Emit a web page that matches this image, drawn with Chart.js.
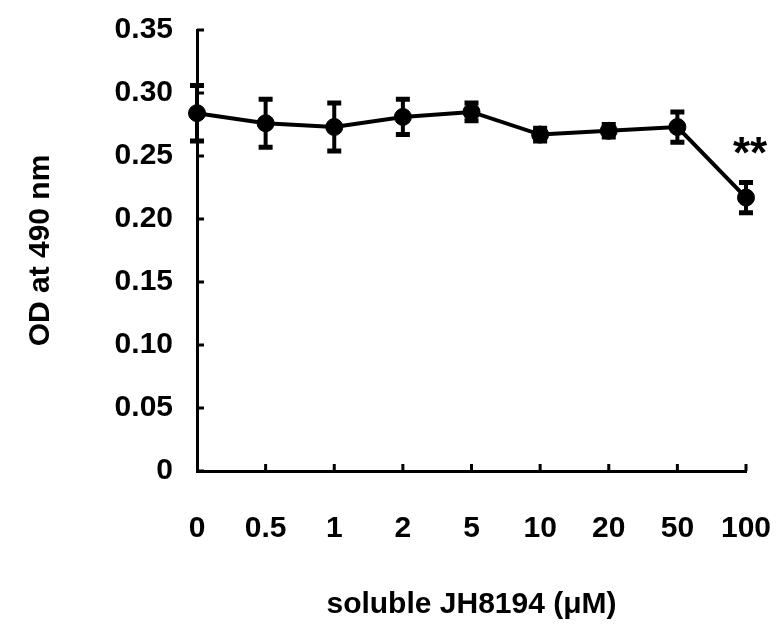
<!DOCTYPE html>
<html>
<head>
<meta charset="utf-8">
<script src="https://cdn.jsdelivr.net/npm/chart.js@4/dist/chart.umd.min.js"></script>
<style>
  html, body { margin: 0; padding: 0; background: #fff; }
  #wrap { width: 776px; height: 633px; }
</style>
</head>
<body>
<div id="wrap"><canvas id="c" width="776" height="633"></canvas></div>
<script>
const concentrations = ['0', '0.5', '1', '2', '5', '10', '20', '50', '100'];
const odMeans = [0.284, 0.276, 0.273, 0.281, 0.285, 0.267, 0.270, 0.273, 0.217];
const odErrors = [0.022, 0.019, 0.019, 0.014, 0.007, 0.005, 0.005, 0.012, 0.012];
const significance = ['', '', '', '', '', '', '', '', '**'];
const yTicks = [0, 0.05, 0.10, 0.15, 0.20, 0.25, 0.30, 0.35];

const FONT = "'Liberation Sans', Arial, sans-serif";

const errorBarPlugin = {
  id: 'errorBars',
  afterDatasetsDraw(chart) {
    const ctx = chart.ctx;
    const meta = chart.getDatasetMeta(0);
    const ys = chart.scales.y;
    ctx.save();
    ctx.strokeStyle = '#000';
    ctx.fillStyle = '#000';
    meta.data.forEach((pt, i) => {
      const x = pt.x;
      const yt = ys.getPixelForValue(odMeans[i] + odErrors[i]);
      const yb = ys.getPixelForValue(odMeans[i] - odErrors[i]);
      ctx.lineWidth = 4;
      ctx.beginPath();
      ctx.moveTo(x, yt); ctx.lineTo(x, yb); ctx.stroke();
      ctx.lineWidth = 5;
      ctx.beginPath();
      ctx.moveTo(x - 7, yt); ctx.lineTo(x + 7, yt);
      ctx.moveTo(x - 7, yb); ctx.lineTo(x + 7, yb);
      ctx.stroke();
      if (significance[i]) {
        ctx.font = 'bold 44px ' + FONT;
        ctx.textAlign = 'center';
        ctx.textBaseline = 'alphabetic';
        ctx.fillText(significance[i], x + 4, yt - 14);
      }
    });
    ctx.restore();
  }
};

const innerTicksPlugin = {
  id: 'innerTicks',
  afterDraw(chart) {
    const ctx = chart.ctx;
    const xs = chart.scales.x, ys = chart.scales.y;
    const area = chart.chartArea;
    ctx.save();
    ctx.strokeStyle = '#000';
    ctx.lineWidth = 3;
    ctx.beginPath();
    ys.ticks.forEach(t => {
      const y = ys.getPixelForValue(t.value);
      ctx.moveTo(area.left, y); ctx.lineTo(area.left + 7, y);
    });
    xs.ticks.forEach((t, i) => {
      if (i === 0) return;
      const x = xs.getPixelForValue(i);
      ctx.moveTo(x, area.bottom); ctx.lineTo(x, area.bottom - 7);
    });
    ctx.stroke();
    ctx.restore();
  }
};

new Chart(document.getElementById('c'), {
  type: 'line',
  data: {
    labels: concentrations,
    datasets: [{
      data: odMeans,
      borderColor: '#000',
      backgroundColor: '#000',
      borderWidth: 4,
      pointRadius: 8.5,
      pointHoverRadius: 8.5,
      pointBorderWidth: 1,
      pointBackgroundColor: '#000',
      pointBorderColor: '#000',
      tension: 0,
      clip: false
    }]
  },
  options: {
    responsive: false,
    animation: false,
    events: [],
    layout: { padding: { left: 0, right: 30, top: 30, bottom: 0 } },
    plugins: { legend: { display: false }, tooltip: { enabled: false } },
    scales: {
      x: {
        type: 'category',
        offset: false,
        grid: { display: false, drawTicks: true, tickLength: 38 },
        border: { display: true, width: 3, color: '#000' },
        ticks: {
          color: '#000', font: { family: FONT, size: 30, weight: 'bold' },
          padding: 2, maxRotation: 0, autoSkip: false
        },
        title: {
          display: true, text: 'soluble JH8194 (\u03bcM)', color: '#000',
          font: { family: FONT, size: 30, weight: 'bold' },
          padding: { top: 0, bottom: 10 }
        },
        afterFit(s) { s.height = 162; }
      },
      y: {
        min: 0, max: 0.35,
        grid: { display: false, drawTicks: true, tickLength: 22 },
        border: { display: true, width: 3, color: '#000' },
        afterBuildTicks(s) { s.ticks = yTicks.map(v => ({ value: v })); },
        ticks: {
          color: '#000', font: { family: FONT, size: 30, weight: 'bold' },
          padding: 2,
          callback: v => (v === 0 ? '0' : Number(v).toFixed(2))
        },
        title: {
          display: true, text: 'OD at 490 nm', color: '#000',
          font: { family: FONT, size: 30, weight: 'bold' },
          padding: { top: 23, bottom: 0 }
        },
        afterFit(s) { s.width = 197; }
      }
    }
  },
  plugins: [errorBarPlugin, innerTicksPlugin]
});
</script>
</body>
</html>
